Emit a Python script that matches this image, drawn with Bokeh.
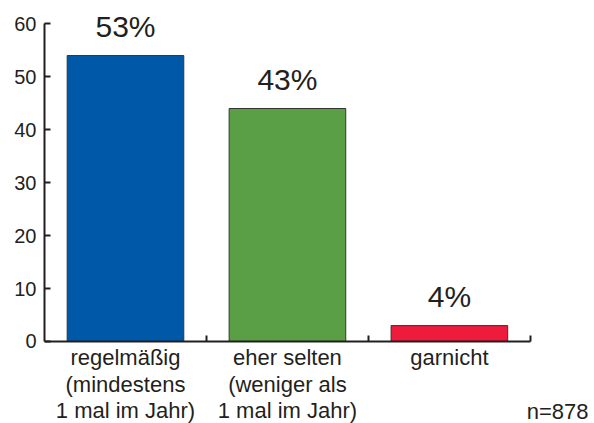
from bokeh.plotting import figure
from bokeh.models import ColumnDataSource, FixedTicker, Range1d
from bokeh.core.properties import value
from bokeh.embed import file_html
from bokeh.resources import INLINE

# data
categories = ["regelmäßig\n(mindestens\n1 mal im Jahr)",
              "eher selten\n(weniger als\n1 mal im Jahr)",
              "garnicht"]
bar_values = [54, 44, 3]
pct_labels = ["53%", "43%", "4%"]
colors = ["#0059a8", "#5a9e46", "#ee1b3c"]
y_ticks = [0, 10, 20, 30, 40, 50, 60]
sample_note = "n=878"

FONT = "Liberation Sans"
TXT = "#231f20"

xs = [i + 0.5 for i in range(len(categories))]
src = ColumnDataSource(dict(x=xs, top=bar_values, lab=pct_labels, color=colors,
                            cat=categories, zero=[0] * len(categories)))

X_END = 3.396
p = figure(frame_width=550, frame_height=423, output_backend="svg", toolbar_location=None,
           x_range=Range1d(0, X_END), y_range=Range1d(-15.49, 64.4),
           min_border_left=44, min_border_right=0, min_border_top=0, min_border_bottom=0)
p.outline_line_color = None
p.grid.visible = False
p.background_fill_color = "white"
p.border_fill_color = "white"

p.vbar(x="x", top="top", width=0.72, bottom=0, fill_color="color",
       line_color="#333333", line_width=1, source=src)

# percentage labels above bars
p.text(x="x", y="top", text="lab", source=src, text_align="center",
       text_baseline="bottom", y_offset=-13, text_font=value(FONT),
       text_font_size="30px", text_color=TXT)

# category labels under the axis
p.text(x="x", y="zero", text="cat", source=src, text_align="center",
       text_baseline="top", y_offset=4, text_font=value(FONT),
       text_font_size="22px", text_line_height=1.05, text_color=TXT)

# sample size note
p.text(x=[X_END], y=[0], text=[sample_note], text_align="right",
       text_baseline="alphabetic", x_offset=-6, y_offset=70, text_font=value(FONT),
       text_font_size="22px", text_color=TXT)

# y axis
ya = p.yaxis[0]
ya.ticker = FixedTicker(ticks=y_ticks)
ya.bounds = (0, 60)
ya.major_tick_in = 6
ya.major_tick_out = 0
ya.minor_tick_line_color = None
ya.axis_line_width = 2
ya.axis_line_color = TXT
ya.major_tick_line_width = 2
ya.major_tick_line_color = TXT
ya.major_label_text_font = FONT
ya.major_label_text_font_size = "20px"
ya.major_label_text_color = TXT
ya.major_label_standoff = 8

# x axis drawn at y = 0
xa = p.xaxis[0]
xa.fixed_location = 0
xa.bounds = (0, 3)
xa.ticker = FixedTicker(ticks=[], minor_ticks=[1, 2, 3])
xa.major_tick_in = 0
xa.major_tick_out = 0
xa.major_label_text_font_size = "0px"
xa.minor_tick_in = 6
xa.minor_tick_out = 0
xa.minor_tick_line_width = 2
xa.minor_tick_line_color = TXT
xa.axis_line_width = 2
xa.axis_line_color = TXT

open("out.html", "w").write(file_html(p, INLINE))
